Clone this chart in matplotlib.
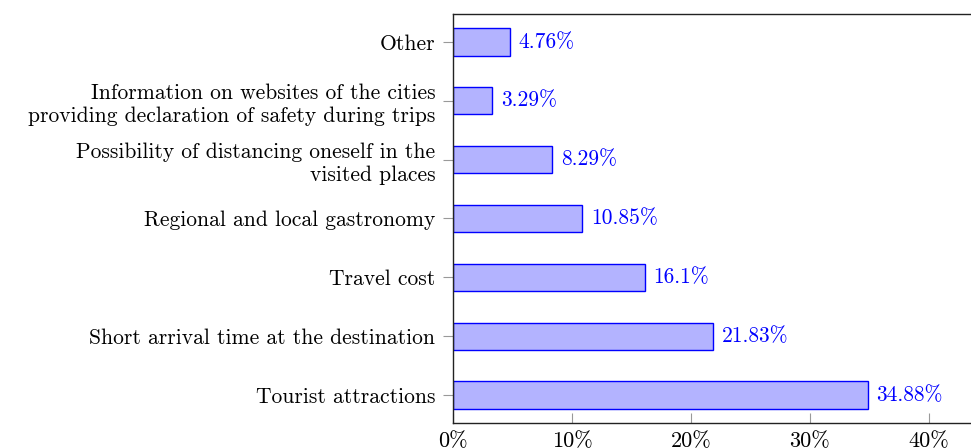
import matplotlib
matplotlib.use("Agg")
import matplotlib.pyplot as plt

plt.rcParams['font.family'] = ['cmr10', 'DejaVu Serif']
plt.rcParams['axes.unicode_minus'] = False

categories = ["Tourist attractions",
              "Short arrival time at the destination",
              "Travel cost",
              "Regional and local gastronomy",
              "Possibility of distancing oneself in the\nvisited places",
              "Information on websites of the cities\nproviding declaration of safety during trips",
              "Other"]

shares = [34.88, 21.83, 16.1, 10.85, 8.29, 3.29, 4.76]
share_labels = ["34.88%", "21.83%", "16.1%", "10.85%", "8.29%", "3.29%", "4.76%"]

xticks = [0, 10, 20, 30, 40]
xtick_labels = ["0%", "10%", "20%", "30%", "40%"]

fig = plt.figure(figsize=(9.71, 4.48), dpi=100)
ax = fig.add_axes([453.3 / 971, 25 / 448, 534.6 / 971, 409 / 448])

pos = list(range(len(categories)))
ax.barh(pos, shares, height=0.46, color='#b3b3ff', edgecolor='#0000ff', linewidth=1.0)

for p, v, lab in zip(pos, shares, share_labels):
    ax.text(v + 0.75, p, lab, color='#0000ff', fontsize=15.5, va='center', ha='left')

ax.set_xlim(0, 45)
ax.set_ylim(-0.476, 6.476)
ax.set_yticks(pos)
ax.set_yticklabels(categories, fontsize=15.5, linespacing=1.22)
ax.set_xticks(xticks)
ax.set_xticklabels(xtick_labels, fontsize=16)

ax.tick_params(axis='y', direction='out', length=7, width=0.8, color='#999999', pad=6)
ax.tick_params(axis='x', direction='in', length=7.5, width=0.8, color='#999999', pad=6)

for s in ax.spines.values():
    s.set_color('#222222')
    s.set_linewidth(1.0)

fig.savefig("out.png", dpi=100)
